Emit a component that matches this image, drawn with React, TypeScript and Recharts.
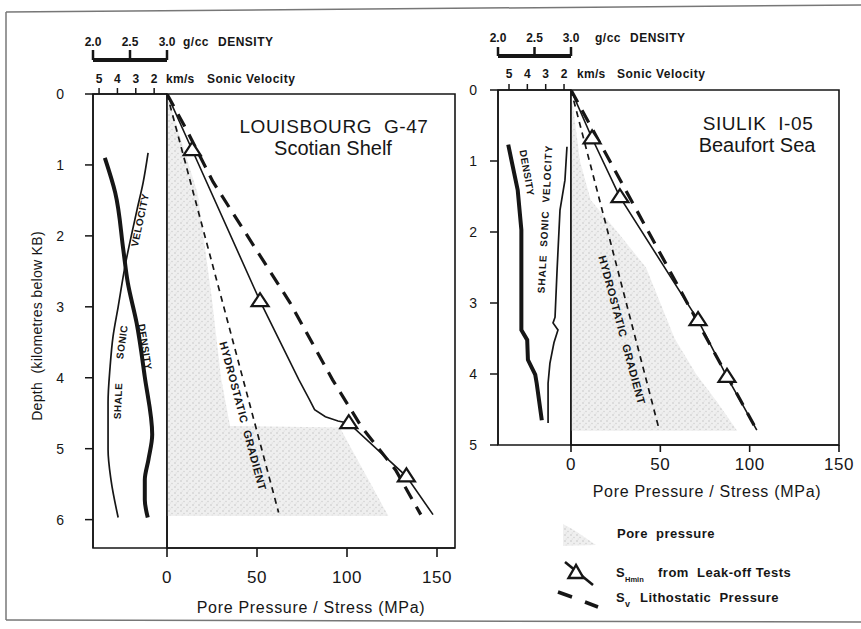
import React from 'react';
import { ComposedChart, Line, Area, XAxis, YAxis, ReferenceArea } from 'recharts';

// ---------- shared tick labels ----------
const velocityTicks = [5, 4, 3, 2];
const densityTicks = [2.0, 2.5, 3.0];
const pressureTicks = [0, 50, 100, 150];
const louisDepthTicks = [0, 1, 2, 3, 4, 5, 6];
const siulikDepthTicks = [0, 1, 2, 3, 4, 5];

// ---------- LOUISBOURG G-47 (Scotian Shelf) ----------
const louisDensity = [
  { depth: 0.9, rho: 2.16 }, { depth: 1.39, rho: 2.3 }, { depth: 2.2, rho: 2.41 },
  { depth: 2.66, rho: 2.47 }, { depth: 3.23, rho: 2.59 }, { depth: 3.99, rho: 2.7 },
  { depth: 4.8, rho: 2.8 }, { depth: 5.15, rho: 2.75 }, { depth: 5.44, rho: 2.7 },
  { depth: 5.72, rho: 2.7 }, { depth: 5.97, rho: 2.74 },
];
const louisVelocity = [
  { depth: 0.83, v: 2.33 }, { depth: 1.25, v: 2.6 }, { depth: 1.63, v: 2.93 },
  { depth: 2.42, v: 3.58 }, { depth: 3.0, v: 3.96 }, { depth: 3.42, v: 4.24 },
  { depth: 3.85, v: 4.4 }, { depth: 4.35, v: 4.51 }, { depth: 5.01, v: 4.51 },
  { depth: 5.44, v: 4.35 }, { depth: 5.97, v: 3.96 },
];
const louisPore = [
  { depth: 0, p: 0 }, { depth: 0.5, p: 6 }, { depth: 1.4, p: 17 }, { depth: 2.9, p: 25 },
  { depth: 4.0, p: 30 }, { depth: 4.68, p: 35 }, { depth: 4.7, p: 96 }, { depth: 5.95, p: 123 },
];
const louisHydro = [{ depth: 0, p: 0 }, { depth: 5.9, p: 62 }];
const louisSv = [
  { depth: 0, p: 0 }, { depth: 0.51, p: 11 }, { depth: 1.24, p: 25.6 }, { depth: 2.94, p: 68.3 },
  { depth: 4.03, p: 92 }, { depth: 4.69, p: 108 }, { depth: 5.3, p: 127 }, { depth: 5.93, p: 141 },
];
const louisShmin = [
  { depth: 0, p: 0 }, { depth: 0.79, p: 14, lot: true }, { depth: 2.92, p: 51.7, lot: true },
  { depth: 4.03, p: 73.3 }, { depth: 4.3, p: 79 }, { depth: 4.45, p: 82 }, { depth: 4.55, p: 88 },
  { depth: 4.61, p: 95 }, { depth: 4.64, p: 101, lot: true }, { depth: 5.39, p: 133, lot: true },
  { depth: 5.93, p: 147.8 },
];

// ---------- SIULIK I-05 (Beaufort Sea) ----------
const siulikDensity = [
  { depth: 0.77, rho: 2.14 }, { depth: 1.41, rho: 2.27 }, { depth: 1.97, rho: 2.32 },
  { depth: 3.38, rho: 2.32 }, { depth: 3.52, rho: 2.4 }, { depth: 3.8, rho: 2.41 },
  { depth: 4.01, rho: 2.51 }, { depth: 4.13, rho: 2.53 }, { depth: 4.65, rho: 2.6 },
];
const siulikVelocity = [
  { depth: 0.8, v: 1.84 }, { depth: 1.27, v: 1.95 }, { depth: 1.69, v: 2.22 },
  { depth: 2.54, v: 2.38 }, { depth: 3.2, v: 2.49 }, { depth: 3.28, v: 2.6 },
  { depth: 3.38, v: 2.33 }, { depth: 3.56, v: 2.55 }, { depth: 3.85, v: 2.77 },
  { depth: 4.13, v: 2.87 }, { depth: 4.69, v: 2.87 },
];
const siulikPore = [
  { depth: 0, p: 0 }, { depth: 1.0, p: 5 }, { depth: 1.55, p: 11 }, { depth: 2.0, p: 26 },
  { depth: 2.5, p: 42 }, { depth: 3.0, p: 50 }, { depth: 3.5, p: 58 }, { depth: 4.0, p: 70 },
  { depth: 4.4, p: 82 }, { depth: 4.8, p: 93 },
];
const siulikHydro = [{ depth: 0, p: 0 }, { depth: 4.75, p: 49 }];
const siulikSv = [{ depth: 0, p: 0 }, { depth: 4.82, p: 104.6 }];
const siulikShmin = [
  { depth: 0, p: 0 }, { depth: 0.68, p: 11.8, lot: true }, { depth: 1.51, p: 27.4, lot: true },
  { depth: 3.24, p: 71.1, lot: true }, { depth: 4.04, p: 87.3, lot: true }, { depth: 4.79, p: 104 },
];

const FONT = '"Liberation Sans", Arial, Helvetica, sans-serif';
const INK = '#161616';

const Tri = (props: any) => {
  const { cx, cy, payload, index } = props;
  if (!payload || !payload.lot || cx == null || cy == null) return <g key={`n${index}`} />;
  return (
    <polygon
      key={`t${index}`}
      points={`${cx},${cy - 8} ${cx - 8.5},${cy + 5} ${cx + 8.5},${cy + 5}`}
      fill="#fff"
      stroke={INK}
      strokeWidth={2.2}
      strokeLinejoin="miter"
    />
  );
};

type StripProps = {
  margin: { top: number; left: number; right: number; bottom: number };
  velDomain: [number, number];
  depthMax: number;
  depthTicks: number[];
  yTickMargin: number;
  velTickMargin: number;
  denTickSize: number;
  denTickMargin: number;
  density: { depth: number; rho: number }[];
  velocity: { depth: number; v: number }[];
  curve: 'monotone' | 'linear';
};

const Strip = (s: StripProps) => (
  <div style={{ position: 'absolute', left: 0, top: 0 }}>
    <ComposedChart width={861} height={629} layout="vertical" margin={s.margin}>
      <XAxis
        xAxisId="b_den" type="number" orientation="top" domain={[2, 3]} allowDataOverflow
        ticks={densityTicks} interval={0} height={30} tickSize={s.denTickSize} tickMargin={s.denTickMargin}
        tickFormatter={(v: number) => v.toFixed(1)}
        tick={{ fontSize: 12, fontWeight: 700, fill: INK }}
        axisLine={{ stroke: INK, strokeWidth: 4 }} tickLine={{ stroke: INK, strokeWidth: 2.5 }}
      />
      <XAxis
        xAxisId="a_vel" type="number" orientation="top" domain={s.velDomain} reversed allowDataOverflow
        ticks={velocityTicks} interval={0} height={34} tickSize={6} tickMargin={s.velTickMargin}
        tick={{ fontSize: 12, fontWeight: 700, fill: INK }}
        axisLine={{ stroke: INK, strokeWidth: 1.5 }} tickLine={{ stroke: INK, strokeWidth: 1.5 }}
      />
      <YAxis
        type="number" dataKey="depth" domain={[0, s.depthMax]} allowDataOverflow ticks={s.depthTicks} interval={0}
        width={40} tickSize={8} tickMargin={s.yTickMargin}
        tick={{ fontSize: 14, fill: INK }}
        axisLine={{ stroke: INK, strokeWidth: 1.5 }} tickLine={{ stroke: INK, strokeWidth: 1.5 }}
      />
      <ReferenceArea xAxisId="b_den" x1={2} x2={3} y1={0} y2={s.depthMax} fill="none" stroke={INK} strokeWidth={1.6} />
      <Line xAxisId="b_den" data={s.density} dataKey="rho" type={s.curve} stroke={INK} strokeWidth={4}
        dot={false} isAnimationActive={false} />
      <Line xAxisId="a_vel" data={s.velocity} dataKey="v" type={s.curve} stroke={INK} strokeWidth={1.7}
        dot={false} isAnimationActive={false} />
    </ComposedChart>
  </div>
);

type MainProps = {
  margin: { top: number; left: number; right: number; bottom: number };
  xMax: number;
  depthMax: number;
  tickSize: number;
  tickMargin: number;
  pore: { depth: number; p: number }[];
  hydro: { depth: number; p: number }[];
  sv: { depth: number; p: number }[];
  shmin: { depth: number; p: number; lot?: boolean }[];
};

const Main = (m: MainProps) => (
  <div style={{ position: 'absolute', left: 0, top: 0 }}>
    <ComposedChart width={861} height={629} layout="vertical" margin={m.margin}>
      <XAxis
        type="number" domain={[0, m.xMax]} allowDataOverflow ticks={pressureTicks} interval={0}
        height={40} tickSize={m.tickSize} tickMargin={m.tickMargin}
        tick={{ fontSize: 17, fill: INK, letterSpacing: 0.5 } as any}
        axisLine={{ stroke: INK, strokeWidth: 1.6 }} tickLine={{ stroke: INK, strokeWidth: 1.6 }}
      />
      <YAxis type="number" dataKey="depth" domain={[0, m.depthMax]} allowDataOverflow hide />
      <Area data={m.pore} dataKey="p" type="linear" fill="url(#stipple)" fillOpacity={1} stroke="none"
        isAnimationActive={false} />
      <ReferenceArea x1={0} x2={m.xMax} y1={0} y2={m.depthMax} fill="none" stroke={INK} strokeWidth={1.6} />
      <Line data={m.hydro} dataKey="p" type="linear" stroke={INK} strokeWidth={1.7} strokeDasharray="6 5"
        dot={false} isAnimationActive={false} />
      <Line data={m.sv} dataKey="p" type="linear" stroke={INK} strokeWidth={3.2} strokeDasharray="14 9"
        dot={false} isAnimationActive={false} />
      <Line data={m.shmin} dataKey="p" type="linear" stroke={INK} strokeWidth={1.6}
        dot={(p: any) => Tri(p)} isAnimationActive={false} />
    </ComposedChart>
  </div>
);

const T = (props: any) => {
  const { x, y, angle = 0, size = 12, bold = false, anchor = 'middle', ls = 0, children } = props;
  return (
    <text
      x={x} y={y} fontSize={size} fontWeight={bold ? 700 : 400} textAnchor={anchor} fill={INK}
      letterSpacing={ls} transform={angle ? `rotate(${angle} ${x} ${y})` : undefined}
      dominantBaseline={angle ? 'central' : undefined}
      style={{ whiteSpace: 'pre' }}
    >
      {children}
    </text>
  );
};

export default function App() {
  return (
    <div style={{ position: 'absolute', left: 0, top: 0, width: 861, height: 629, background: '#fff', fontFamily: FONT, overflow: 'hidden' }}>
      <svg width={0} height={0} style={{ position: 'absolute' }}>
        <defs>
          <pattern id="stipple" width="6" height="6" patternUnits="userSpaceOnUse">
            <rect width="6" height="6" fill="#efefef" />
            <circle cx="1" cy="1" r="0.8" fill="#c4c4c4" />
            <circle cx="4" cy="3.5" r="0.7" fill="#cdcdcd" />
            <circle cx="2.2" cy="5" r="0.6" fill="#d6d6d6" />
          </pattern>
        </defs>
      </svg>

      <Strip
        margin={{ top: 30, left: 53, right: 694, bottom: 81 }}
        velDomain={[1.3, 5.33]} depthMax={6.4} depthTicks={louisDepthTicks}
        yTickMargin={21} velTickMargin={5} denTickSize={10} denTickMargin={4}
        density={louisDensity} velocity={louisVelocity} curve="monotone"
      />
      <Main
        margin={{ top: 94, left: 167, right: 406, bottom: 41 }}
        xMax={160} depthMax={6.4} tickSize={9} tickMargin={14}
        pore={louisPore} hydro={louisHydro} sv={louisSv} shmin={louisShmin}
      />
      <Strip
        margin={{ top: 26, left: 458, right: 290, bottom: 184 }}
        velDomain={[1.62, 5.6]} depthMax={5} depthTicks={siulikDepthTicks}
        yTickMargin={13} velTickMargin={6} denTickSize={9} denTickMargin={5}
        density={siulikDensity} velocity={siulikVelocity} curve="linear"
      />
      <Main
        margin={{ top: 90, left: 571, right: 22, bottom: 144 }}
        xMax={150} depthMax={5} tickSize={7} tickMargin={6}
        pore={siulikPore} hydro={siulikHydro} sv={siulikSv} shmin={siulikShmin}
      />

      <svg width={861} height={629} style={{ position: 'absolute', left: 0, top: 0, pointerEvents: 'none' }}>
        {/* figure frame */}
        <line x1={6} y1={12} x2={861} y2={5} stroke="#777" strokeWidth={1.5} />
        <line x1={6} y1={12} x2={6} y2={620} stroke="#777" strokeWidth={1.5} />
        <line x1={6} y1={620} x2={861} y2={622} stroke="#777" strokeWidth={1.5} />

        {/* left panel texts */}
        <T x={37} y={326} angle={-90} size={14} ls={0.3}>Depth  (kilometres below KB)</T>
        <T x={183} y={46} size={12} bold anchor="start" ls={0.5}>g/cc</T>
        <T x={218} y={46} size={12} bold anchor="start" ls={0.5}>DENSITY</T>
        <T x={166} y={83} size={12} bold anchor="start" ls={0.3}>km/s</T>
        <T x={207} y={83} size={12} bold anchor="start" ls={0.5}>Sonic Velocity</T>
        <T x={334} y={133} size={19} ls={0.6}>LOUISBOURG  G-47</T>
        <T x={333} y={155} size={20}>Scotian Shelf</T>
        <T x={311} y={613} size={16} ls={0.7}>Pore Pressure / Stress (MPa)</T>
        <T x={243} y={416} angle={75} size={11} bold ls={0.6}>HYDROSTATIC  GRADIENT</T>
        <T x={140} y={220} angle={-78} size={10} bold ls={0.5}>VELOCITY</T>
        <T x={122} y={342} angle={-82} size={10} bold ls={0.5}>SONIC</T>
        <T x={118} y={401} angle={-88} size={10} bold ls={0.5}>SHALE</T>
        <T x={145} y={347} angle={81} size={10} bold ls={0.5}>DENSITY</T>

        {/* right panel texts */}
        <T x={595} y={42} size={12} bold anchor="start" ls={0.5}>g/cc</T>
        <T x={630} y={42} size={12} bold anchor="start" ls={0.5}>DENSITY</T>
        <T x={577} y={78} size={12} bold anchor="start" ls={0.3}>km/s</T>
        <T x={617} y={78} size={12} bold anchor="start" ls={0.5}>Sonic Velocity</T>
        <T x={758} y={130} size={19} ls={0.6}>SIULIK  I-05</T>
        <T x={757} y={152} size={20}>Beaufort Sea</T>
        <T x={707} y={497} size={16} ls={0.7}>Pore Pressure / Stress (MPa)</T>
        <T x={622} y={330} angle={75} size={11} bold ls={0.6}>HYDROSTATIC  GRADIENT</T>
        <T x={527} y={173} angle={80} size={10} bold ls={0.5}>DENSITY</T>
        <T x={545} y={219} angle={-87} size={10} bold ls={1}>SHALE  SONIC  VELOCITY</T>

        {/* legend */}
        <polygon points="563,524 574,530 596,545 563,546" fill="url(#stipple)" />
        <T x={617} y={538} size={13} bold anchor="start" ls={0.5}>Pore  pressure</T>
        <line x1={565} y1={562} x2={593} y2={585} stroke={INK} strokeWidth={2.6} />
        <polygon points="576,565 568.5,578 583.5,578" fill="#fff" stroke={INK} strokeWidth={2.4} />
        <T x={616} y={577} size={13} bold anchor="start">S</T>
        <T x={625} y={582} size={7.5} bold anchor="start">Hmin</T>
        <T x={658} y={577} size={13} bold anchor="start" ls={0.5}>from  Leak-off Tests</T>
        <line x1={558} y1={592} x2={572} y2={597} stroke={INK} strokeWidth={3.5} />
        <line x1={585} y1={602} x2={598} y2={607} stroke={INK} strokeWidth={3.5} />
        <T x={616} y={602} size={13} bold anchor="start">S</T>
        <T x={625} y={607} size={9} bold anchor="start">v</T>
        <T x={640} y={602} size={13} bold anchor="start" ls={0.5}>Lithostatic  Pressure</T>
      </svg>
    </div>
  );
}
